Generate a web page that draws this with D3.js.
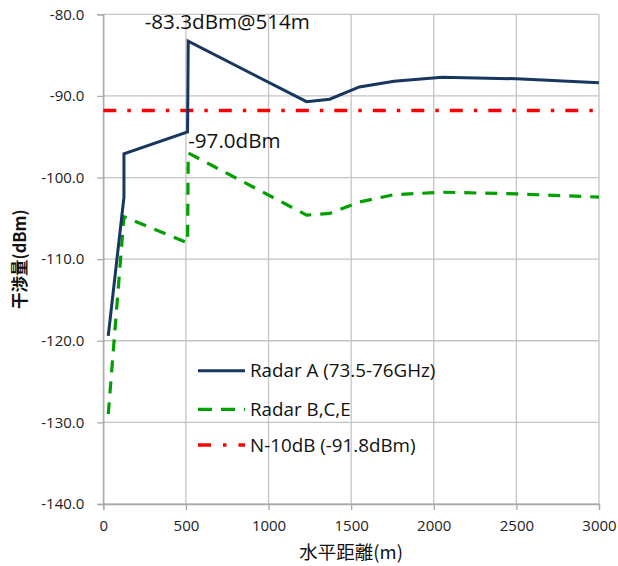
<!DOCTYPE html>
<html><head><meta charset="utf-8">
<script src="https://cdn.jsdelivr.net/npm/d3@7/dist/d3.min.js"></script>
<style>
html,body{margin:0;padding:0;background:#fff;}
svg{display:block;font-family:"Open Sans",sans-serif;}
</style></head>
<body><svg id="c" width="618" height="566"></svg>
<script>
// ---- data ----
const distA  = [30, 125, 125, 510, 514, 1230, 1370, 1550, 1760, 2050, 2500, 3000];
const radarA = [-119.4, -102.4, -97.1, -94.4, -83.3, -90.7, -90.4, -88.9, -88.2, -87.7, -87.9, -88.4];
const distB  = [30, 125, 510, 514, 1230, 1370, 1550, 1760, 2050, 2500, 3000];
const radarB = [-129.0, -104.8, -108.0, -97.0, -104.6, -104.4, -103.0, -102.1, -101.8, -102.0, -102.4];
const distN  = [0, 3000];
const levelN = [-91.8, -91.8];
const seriesNames = ["Radar A (73.5-76GHz)", "Radar B,C,E", "N-10dB (-91.8dBm)"];
const xTicks = [0, 500, 1000, 1500, 2000, 2500, 3000];
const yTicks = [-140, -130, -120, -110, -100, -90, -80];
const annotations = [
  {x: 514, y: -83.3, text: "-83.3dBm@514m"},
  {x: 514, y: -97.0, text: "-97.0dBm"}
];
const xTitle = "水平距離(m)";
const yTitle = "干渉量(dBm)";

// ---- layout ----
const svg = d3.select("#c");
const x = d3.scaleLinear().domain([0, 3000]).range([103.3, 599]);
const y = d3.scaleLinear().domain([-140, -80]).range([504, 14.3]);

const gridColor = "#c4c4c4";
// grid
svg.append("g").selectAll("line").data(yTicks).join("line")
  .attr("x1", x(0)).attr("x2", x(3000))
  .attr("y1", d => y(d)).attr("y2", d => y(d))
  .attr("stroke", gridColor).attr("stroke-width", 1.3);
svg.append("g").selectAll("line").data(xTicks).join("line")
  .attr("x1", d => x(d)).attr("x2", d => x(d))
  .attr("y1", y(-140)).attr("y2", y(-80))
  .attr("stroke", gridColor).attr("stroke-width", 1.3);

// axes
const yAxis = d3.axisLeft(y).tickValues(yTicks).tickFormat(d3.format(".1f")).tickSize(6).tickPadding(13);
const gy = svg.append("g").attr("transform", `translate(${x(0)},0)`).call(yAxis);
const xAxis = d3.axisBottom(x).tickValues(xTicks).tickFormat(d3.format("d")).tickSize(6).tickPadding(10);
const gx = svg.append("g").attr("transform", `translate(0,${y(-140)})`).call(xAxis);
[gy, gx].forEach(g => {
  g.select(".domain").attr("stroke", "#a8a8a8").attr("stroke-width", 1.3);
  g.selectAll(".tick line").attr("stroke", "#a8a8a8").attr("stroke-width", 1.3);
  g.selectAll(".tick text").attr("font-family", "Open Sans").attr("font-size", 15).attr("fill", "#222");
});
gy.selectAll(".tick text").text(d => d3.format(".1f")(d).replace("−", "-"));

// lines
const lineGen = d3.line().x(d => x(d[0])).y(d => y(d[1]));
const dataA = distA.map((d, i) => [d, radarA[i]]);
const dataB = distB.map((d, i) => [d, radarB[i]]);
const dataN = distN.map((d, i) => [d, levelN[i]]);

svg.append("path").datum(dataN).attr("d", lineGen)
  .attr("fill", "none").attr("stroke", "#ff0000").attr("stroke-width", 3.5)
  .attr("stroke-dasharray", "13,11,3.5,11").attr("stroke-dashoffset", 0);
svg.append("path").datum(dataB).attr("d", lineGen)
  .attr("fill", "none").attr("stroke", "#00a000").attr("stroke-width", 3.2)
  .attr("stroke-dasharray", "12,9");
svg.append("path").datum(dataA).attr("d", lineGen)
  .attr("fill", "none").attr("stroke", "#17375e").attr("stroke-width", 3).attr("stroke-linejoin", "miter");

// annotations
const annOffsets = [[-43.5, -12], [0, -5]];
svg.append("g").selectAll("text").data(annotations).join("text")
  .attr("x", (d, i) => x(d.x) + annOffsets[i][0])
  .attr("y", (d, i) => y(d.y) + annOffsets[i][1])
  .attr("font-size", 20.6).attr("fill", "#111").attr("font-family", "Open Sans")
  .text(d => d.text);

// legend
const legStyles = [
  {stroke: "#17375e", dash: null, w: 3},
  {stroke: "#00a000", dash: "14,9", w: 3.2},
  {stroke: "#ff0000", dash: "13,12,3.5,12", w: 3.5}
];
const legY = [370.7, 409.3, 445];
const leg = svg.append("g");
seriesNames.forEach((name, i) => {
  leg.append("line").attr("x1", 198).attr("x2", 245).attr("y1", legY[i]).attr("y2", legY[i])
    .attr("stroke", legStyles[i].stroke).attr("stroke-width", legStyles[i].w)
    .attr("stroke-dasharray", legStyles[i].dash);
  leg.append("text").attr("x", 250).attr("y", legY[i]).attr("dy", "0.35em")
    .attr("font-size", 18.8).attr("fill", "#111").attr("font-family", "Open Sans").text(name);
});

// titles
svg.append("text").attr("x", (x(0) + x(3000)) / 2).attr("y", 559)
  .attr("text-anchor", "middle").attr("font-family", "Noto Sans CJK JP").attr("font-size", 18.5)
  .attr("fill", "#111").text(xTitle);
svg.append("text").attr("transform", `translate(26,${(y(-80) + y(-140)) / 2}) rotate(-90)`)
  .attr("text-anchor", "middle").attr("font-family", "Noto Sans CJK JP").attr("font-size", 16.5)
  .attr("font-weight", "bold").attr("fill", "#111").text(yTitle);
</script></body></html>
